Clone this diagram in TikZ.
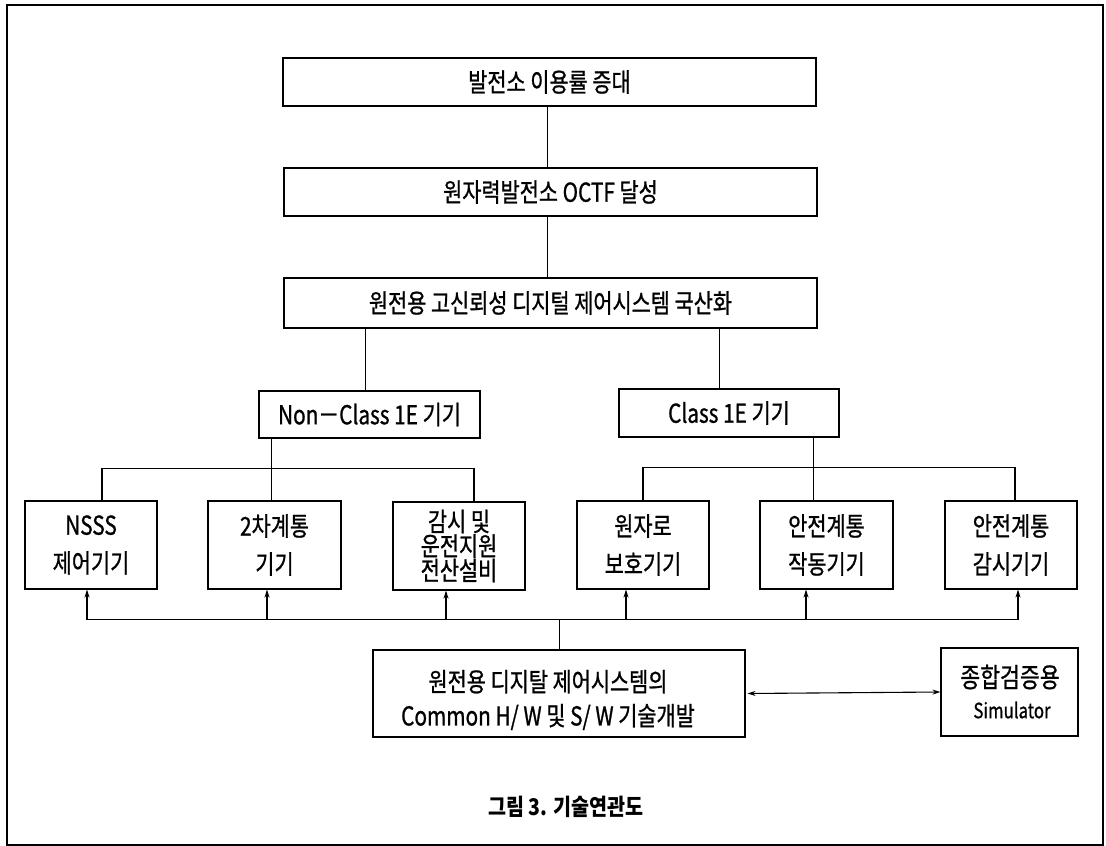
\documentclass[tikz,border=0pt]{standalone}
\usepackage{fontspec}
\setmainfont[FakeStretch=0.8,BoldFont={Noto Sans CJK KR},BoldFeatures={FakeBold=0.9}]{Noto Sans CJK KR}
\newfontfamily\capfont[FakeStretch=0.85]{Noto Sans CJK KR}
\usetikzlibrary{arrows.meta}
\begin{document}
\begin{tikzpicture}[x=1pt,y=-1pt,
  box/.style={draw, line width=1.1pt, inner sep=0pt, align=center, font=\bfseries\fontsize{26}{26}\selectfont},
  lowbox/.style={box, minimum width=132pt, minimum height=88pt, font=\bfseries\fontsize{26}{38}\selectfont},
  txt/.style={inner sep=0pt, align=center},
  conn/.style={line width=0.9pt},
  bus/.style={line width=1.4pt},
  arr/.style={line width=1.1pt, -{Stealth[length=8pt,width=5pt]}},
  dblarr/.style={line width=1.1pt, {Stealth[length=8pt,width=5pt]}-{Stealth[length=8pt,width=5pt]}},
]
\useasboundingbox (0,0) rectangle (1106,846);
\node[draw, line width=1.5pt, minimum width=1096pt, minimum height=840pt, inner sep=0pt] (frame) at (555,425) {};

% top chain
\node[box, minimum width=533pt, minimum height=48pt] (b1) at (549.5,82) {발전소 이용률 증대};
\node[box, minimum width=533pt, minimum height=48pt] (b2) at (550.5,192) {원자력발전소 OCTF 달성};
\node[box, minimum width=533pt, minimum height=50pt] (b3) at (550.5,303) {원전용 고신뢰성 디지털 제어시스템 국산화};

% class boxes
\node[box, minimum width=221pt, minimum height=47pt] (nc) at (369.5,414.5) {Non－Class 1E 기기};
\node[box, minimum width=220pt, minimum height=48pt] (cl) at (729,413) {Class 1E 기기};

% low boxes
\node[lowbox] (l1) at (91,545) {NSSS\\제어기기};
\node[lowbox, minimum width=133pt] (l2) at (274.5,545) {2차계통\\기기};
\node[lowbox, font=\bfseries\fontsize{26}{24.5}\selectfont] (l3) at (459,546) {감시 및\\운전지원\\전산설비};
\node[lowbox] (l4) at (643,545) {원자로\\보호기기};
\node[lowbox, minimum width=133pt] (l5) at (826.5,545) {안전계통\\작동기기};
\node[lowbox] (l6) at (1011,545) {안전계통\\감시기기};

% common and simulator
\node[box, minimum width=372pt, minimum height=87pt] (cm) at (559,693.5) {};
\node[txt, font=\bfseries\fontsize{26}{34}\selectfont] (cmt) at (548,700) {원전용 디지탈 제어시스템의\\Common H/ W 및 S/ W 기술개발};
\node[box, minimum width=137pt, minimum height=88pt] (sm) at (1009.5,692) {};
\node[txt, font=\bfseries\fontsize{27}{27}\selectfont] (smt1) at (1010,677) {종합검증용};
\node[txt, font=\bfseries\fontsize{21}{21}\selectfont] (smt2) at (1012,710) {Simulator};

% caption
\node[txt, font=\capfont\bfseries\fontsize{23}{23}\selectfont] (cap) at (566,807) {그림 3. 기술연관도};

% connectors top
\draw[conn] ([xshift=-2.5pt]b1.south) -- ([xshift=-3.5pt]b2.north);
\draw[conn] ([xshift=-3.5pt]b2.south) -- ([xshift=-3.5pt]b3.north);
\draw[conn] ([xshift=-4.5pt]nc.north) -- ([xshift=-4.5pt]nc.north |- b3.south);
\draw[conn] ([xshift=-10pt]cl.north) -- ([xshift=-10pt]cl.north |- b3.south);

% left bus
\coordinate (lb1) at ([xshift=11pt]l1.north);
\coordinate (lb3) at ([xshift=15pt]l3.north);
\draw[conn] ([xshift=-3pt]l2.north |- nc.south) -- ([xshift=-3pt]l2.north);
\draw[bus] (lb1) -- ++(0,-32) -| (lb3);
% right bus
\draw[conn] ([xshift=-13.5pt]l5.north |- cl.south) -- ([xshift=-13.5pt]l5.north);
\draw[bus] (l4.north) -- ++(0,-33) -| ([xshift=4pt]l6.north);

% bottom bus with arrows
\coordinate (bl) at ([xshift=-4pt,yshift=-30pt]l1.south);
\coordinate (br) at ([xshift=7pt,yshift=-30pt]l6.south);
\draw[bus] (bl) -- (br);
\draw[arr] (bl) -- ([xshift=-4pt]l1.south);
\draw[arr] ([xshift=-7.5pt]l2.south |- bl) -- ([xshift=-7.5pt]l2.south);
\draw[arr] ([xshift=-13pt]l3.south |- bl) -- ([xshift=-13pt]l3.south);
\draw[arr] ([xshift=-17pt]l4.south |- bl) -- ([xshift=-17pt]l4.south);
\draw[arr] ([xshift=-20.5pt]l5.south |- bl) -- ([xshift=-20.5pt]l5.south);
\draw[arr] (br) -- ([xshift=7pt]l6.south);
\draw[conn] (cm.north) -- (cm.north |- bl);

% double arrow
\draw[dblarr] ([xshift=2pt]cm.east) -- (sm.west);
\end{tikzpicture}
\end{document}
